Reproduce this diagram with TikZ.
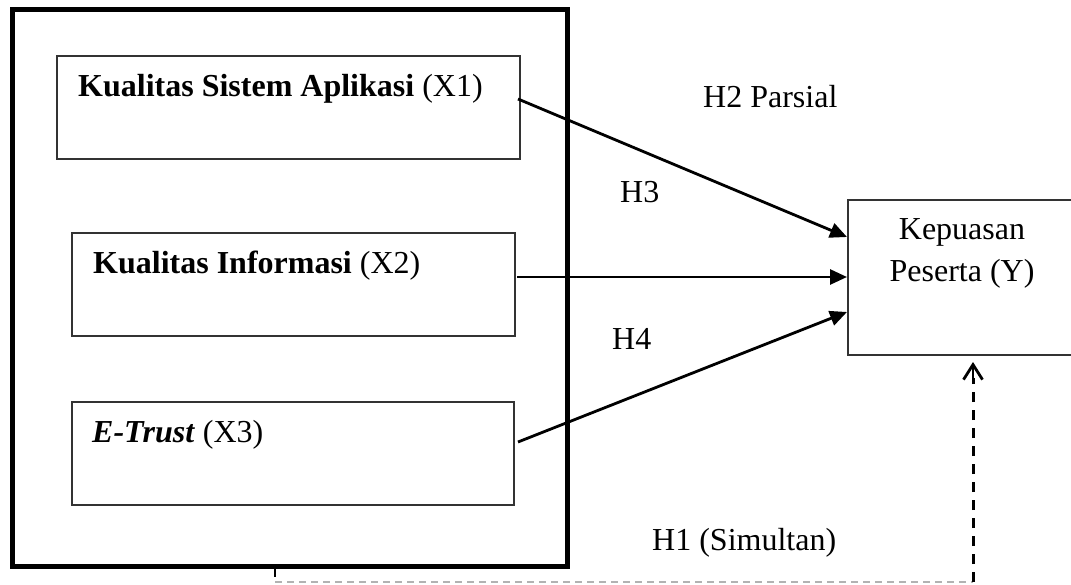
\documentclass[tikz,border=0pt]{standalone}
\usepackage{fontspec}
\setmainfont{Liberation Serif}
\usetikzlibrary{arrows.meta}
\begin{document}
\begin{tikzpicture}[x=1pt,y=-1pt,
  box/.style={draw=black!80, line width=1.3pt, inner sep=0pt, outer sep=0pt},
  txt/.style={inner sep=0pt, anchor=base west, font=\fontsize{32}{42}\selectfont},
  ctxt/.style={inner sep=0pt, anchor=base, font=\fontsize{32}{42}\selectfont},
  arr/.style={line width=2.8pt, -{Triangle[length=17pt,width=15pt]}},
  simdash/.style={line width=3pt, dash pattern=on 10pt off 8pt},
  graydash/.style={draw=black!30, line width=1.8pt, dash pattern=on 7pt off 5pt},
  openhead/.style={-{Straight Barb[length=15pt,width=19pt,line width=2.8pt]}}
]
\useasboundingbox (0,0) rectangle (1071,585);

% outer group box
\node[draw=black, line width=5pt, minimum width=555pt, minimum height=556pt, inner sep=0pt] (grp) at (289.5,288) {};

% inner boxes
\node[box, minimum width=463pt, minimum height=103pt] (x1) at (288.5,107.5) {};
\node[box, minimum width=443pt, minimum height=103pt] (x2) at (293.5,284.5) {};
\node[box, minimum width=442pt, minimum height=103pt] (x3) at (293,453.5) {};
\node[box, minimum width=226pt, minimum height=155pt] (y) at (961,277.5) {};

% box texts
\node[txt] (x1t) at (78,97) {\textbf{Kualitas Sistem Aplikasi} (X1)};
\node[txt] (x2t) at (93,274) {\textbf{Kualitas Informasi} (X2)};
\node[txt] (x3t) at (92,442) {\textbf{\textit{E-Trust}} (X3)};
\node[ctxt] (yt1) at (962,240) {Kepuasan};
\node[ctxt] (yt2) at (962,282) {Peserta (Y)};

% hypothesis labels
\node[txt] (h2) at (703,108) {H2 Parsial};
\node[txt] (h3) at (620,203) {H3};
\node[txt] (h4) at (612,349) {H4};
\node[txt] (h1) at (652,550) {H1 (Simultan)};

% arrow end points
\coordinate (s1) at (518,99);
\coordinate (e1) at (847,237);
\coordinate (s2) at (517,277);
\coordinate (e2) at (847,277);
\coordinate (s3) at (518,442);
\coordinate (e3) at (847,312);

\draw[arr] (s1) -- (e1);
\draw[arr] (s2) -- (e2);
\draw[arr] (s3) -- (e3);

% simultaneous dashed connector
\coordinate (d0) at (275,566);
\coordinate (d1) at (275,582);
\coordinate (d2) at (973,582);
\coordinate (d3) at (973,362);
\draw[line width=2.8pt] (d0) -- (275,577);
\draw[graydash] (d1) -- (d2);
\draw[simdash] (d2) -- (973,378);
\draw[openhead, line width=2.8pt] (973,380) -- (d3);
\end{tikzpicture}
\end{document}
